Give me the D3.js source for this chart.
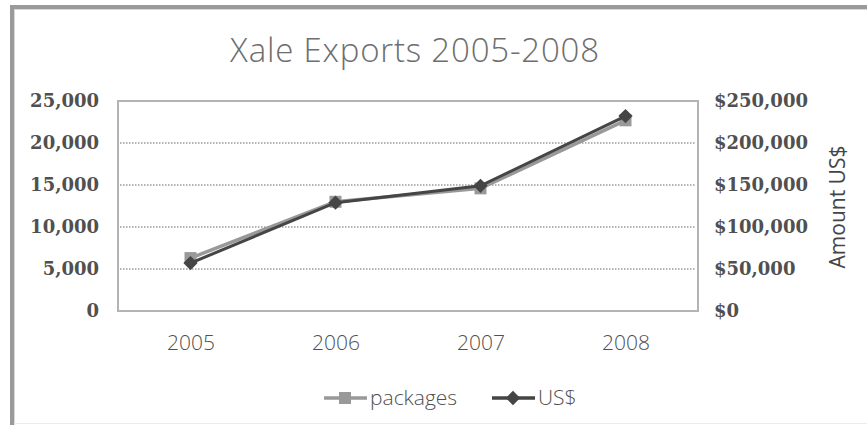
<!DOCTYPE html>
<html>
<head>
<meta charset="utf-8">
<script src="https://cdn.jsdelivr.net/npm/d3@7"></script>
<style>
	html, body { margin: 0; background: #fff; overflow: hidden; }
	svg { display: block; }
</style>
</head>
<body>
<div id="chart"></div>
<script>
const years = ["2005", "2006", "2007", "2008"];
const packages = [6300, 13000, 14600, 22700];
const amountUsd = [57000, 129000, 149000, 232000];
const leftTicks = [0, 5000, 10000, 15000, 20000, 25000];
const rightTicks = [0, 50000, 100000, 150000, 200000, 250000];

const width = 867;
const height = 425;
const plot = { left: 118, right: 698, top: 101, bottom: 311 };

const colors = {
	frame: "#9a9a9a",
	plotBorder: "#b4b4b4",
	grid: "#9a9a9a",
	title: "#6e6e6e",
	axisText: "#505050",
	packages: "#999999",
	usd: "#454545",
};

const svg = d3.select("#chart")
	.append("svg")
	.attr("width", width)
	.attr("height", height)
	.style("overflow", "hidden");

// outer frame: top and left edges, faint bottom line
svg.append("line")
	.attr("x1", 12)
	.attr("x2", 12)
	.attr("y1", 5)
	.attr("y2", height)
	.attr("stroke", colors.frame)
	.attr("stroke-width", 4);
svg.append("line")
	.attr("x1", 10)
	.attr("x2", width)
	.attr("y1", 7)
	.attr("y2", 7)
	.attr("stroke", colors.frame)
	.attr("stroke-width", 4);
svg.append("line")
	.attr("x1", 14.5)
	.attr("x2", 14.5)
	.attr("y1", 9)
	.attr("y2", height)
	.attr("stroke", "#d8d8d8")
	.attr("stroke-width", 1);
svg.append("line")
	.attr("x1", 14)
	.attr("x2", width)
	.attr("y1", 9.5)
	.attr("y2", 9.5)
	.attr("stroke", "#d8d8d8")
	.attr("stroke-width", 1);
svg.append("line")
	.attr("x1", 14)
	.attr("x2", width)
	.attr("y1", 423.5)
	.attr("y2", 423.5)
	.attr("stroke", "#ececec")
	.attr("stroke-width", 1);

// title
svg.append("text")
	.attr("x", 415)
	.attr("y", 62)
	.attr("text-anchor", "middle")
	.attr("fill", colors.title)
	.style("font-family", "'Open Sans', sans-serif")
	.style("font-weight", 300)
	.style("font-size", "33px")
	.style("letter-spacing", "0.8px")
	.text("Xale Exports 2005-2008");

// scales
const x = d3.scalePoint()
	.domain(years)
	.range([plot.left, plot.right])
	.padding(0.5);
const yLeft = d3.scaleLinear()
	.domain([0, 25000])
	.range([plot.bottom, plot.top]);
const yRight = d3.scaleLinear()
	.domain([0, 250000])
	.range([plot.bottom, plot.top]);

// gridlines
svg.append("g")
	.selectAll("line")
	.data(leftTicks.filter((d) => d > 0 && d < 25000))
	.enter()
	.append("line")
	.attr("x1", plot.left + 2)
	.attr("x2", plot.right - 2)
	.attr("y1", (d) => yLeft(d))
	.attr("y2", (d) => yLeft(d))
	.attr("stroke", colors.grid)
	.attr("stroke-width", 1.5)
	.attr("stroke-dasharray", "1.5,1.5");

// plot border
svg.append("rect")
	.attr("x", plot.left)
	.attr("y", plot.top)
	.attr("width", plot.right - plot.left)
	.attr("height", plot.bottom - plot.top)
	.attr("fill", "none")
	.attr("stroke", colors.plotBorder)
	.attr("stroke-width", 2);

// left axis
const leftAxis = svg.append("g")
	.attr("transform", `translate(${plot.left}, 0)`)
	.call(d3.axisLeft(yLeft).tickValues(leftTicks).tickFormat(d3.format(",")).tickSize(0).tickPadding(19));
leftAxis.select(".domain").remove();
leftAxis.selectAll("text")
	.attr("fill", colors.axisText)
	.style("font-family", "'DejaVu Serif', serif")
	.style("font-weight", "bold")
	.style("font-size", "18px");

// right axis
const rightAxis = svg.append("g")
	.attr("transform", `translate(${plot.right}, 0)`)
	.call(d3.axisRight(yRight).tickValues(rightTicks).tickFormat((d) => "$" + d3.format(",")(d)).tickSize(0).tickPadding(16));
rightAxis.select(".domain").remove();
rightAxis.selectAll("text")
	.attr("fill", colors.axisText)
	.style("font-family", "'DejaVu Serif', serif")
	.style("font-weight", "bold")
	.style("font-size", "18px");

// bottom axis
const bottomAxis = svg.append("g")
	.attr("transform", `translate(0, ${plot.bottom})`)
	.call(d3.axisBottom(x).tickSize(0).tickPadding(24));
bottomAxis.select(".domain").remove();
bottomAxis.selectAll("text")
	.attr("fill", colors.axisText)
	.style("font-family", "'Open Sans', sans-serif")
	.style("font-weight", 300)
	.style("font-size", "21px");

// right axis title
svg.append("text")
	.attr("transform", "translate(845, 207) rotate(-90)")
	.attr("text-anchor", "middle")
	.attr("fill", "#454545")
	.style("font-family", "'Open Sans', sans-serif")
	.style("font-size", "21px")
	.text("Amount US$");

// lines
const lineLeft = d3.line()
	.x((d, i) => x(years[i]))
	.y((d) => yLeft(d));
const lineRight = d3.line()
	.x((d, i) => x(years[i]))
	.y((d) => yRight(d));

svg.append("path")
	.datum(packages)
	.attr("d", lineLeft)
	.attr("fill", "none")
	.attr("stroke", colors.packages)
	.attr("stroke-width", 3.5);

svg.append("g")
	.selectAll("rect")
	.data(packages)
	.enter()
	.append("rect")
	.attr("x", (d, i) => x(years[i]) - 6)
	.attr("y", (d) => yLeft(d) - 6)
	.attr("width", 12)
	.attr("height", 12)
	.attr("fill", colors.packages);

svg.append("path")
	.datum(amountUsd)
	.attr("d", lineRight)
	.attr("fill", "none")
	.attr("stroke", colors.usd)
	.attr("stroke-width", 3);

const diamond = d3.symbol().type(d3.symbolDiamond2).size(130);
svg.append("g")
	.selectAll("path")
	.data(amountUsd)
	.enter()
	.append("path")
	.attr("d", diamond)
	.attr("transform", (d, i) => `translate(${x(years[i])}, ${yRight(d)})`)
	.attr("fill", colors.usd);

// legend
const legendItems = [
	{ name: "packages", color: colors.packages, shape: "square", x: 324 },
	{ name: "US$", color: colors.usd, shape: "diamond", x: 492 },
];
const legend = svg.append("g")
	.selectAll("g")
	.data(legendItems)
	.enter()
	.append("g")
	.attr("transform", (d) => `translate(${d.x}, 398)`);
legend.append("line")
	.attr("x1", 0)
	.attr("x2", 43)
	.attr("stroke", (d) => d.color)
	.attr("stroke-width", 3.5);
legend.filter((d) => d.shape === "square")
	.append("rect")
	.attr("x", 15)
	.attr("y", -6)
	.attr("width", 12)
	.attr("height", 12)
	.attr("fill", (d) => d.color);
legend.filter((d) => d.shape === "diamond")
	.append("path")
	.attr("d", diamond)
	.attr("transform", "translate(21, 0)")
	.attr("fill", (d) => d.color);
legend.append("text")
	.attr("x", 46)
	.attr("y", 7)
	.attr("fill", colors.axisText)
	.style("font-family", "'Open Sans', sans-serif")
	.style("font-weight", 300)
	.style("font-size", "21px")
	.text((d) => d.name);
</script>
</body>
</html>
